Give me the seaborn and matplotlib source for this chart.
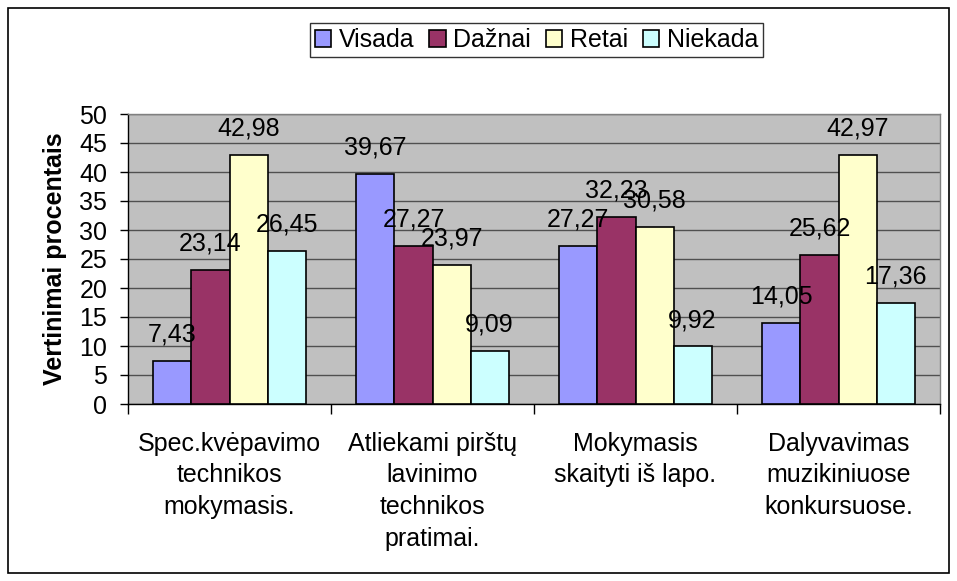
import numpy as np
import pandas as pd
import matplotlib
matplotlib.use("Agg")
import matplotlib.pyplot as plt
import seaborn as sns
from matplotlib.patches import Rectangle
from matplotlib.ticker import FixedLocator

# Duomenys
kategorijos = ["Spec.kvėpavimo\ntechnikos\nmokymasis.",
               "Atliekami pirštų\nlavinimo\ntechnikos\npratimai.",
               "Mokymasis\nskaityti iš lapo.",
               "Dalyvavimas\nmuzikiniuose\nkonkursuose."]
serijos = ["Visada", "Dažnai", "Retai", "Niekada"]
visada = [7.43, 39.67, 27.27, 14.05]
daznai = [23.14, 27.27, 32.23, 25.62]
retai = [42.98, 23.97, 30.58, 42.97]
niekada = [26.45, 9.09, 9.92, 17.36]
spalvos = ["#9999FF", "#993366", "#FFFFCC", "#CCFFFF"]

df = pd.DataFrame({
    "kategorija": np.repeat(kategorijos, 4),
    "serija": serijos * 4,
    "reiksme": [v for grupe in zip(visada, daznai, retai, niekada) for v in grupe],
})

sns.set_style("white")
plt.rcParams["font.family"] = ["Liberation Sans", "DejaVu Sans"]
plt.rcParams["text.color"] = "black"
plt.rcParams["axes.labelcolor"] = "black"
plt.rcParams["xtick.color"] = "black"
plt.rcParams["ytick.color"] = "black"
FS = 18

fig = plt.figure(figsize=(9.57, 5.81), dpi=100)
ax = fig.add_axes([128/957, 1 - 404/581, (940 - 128)/957, (404 - 114)/581])
ax.set_facecolor("#C0C0C0")

sns.barplot(data=df, x="kategorija", y="reiksme", hue="serija",
            hue_order=serijos, order=kategorijos, palette=spalvos,
            width=0.75, edgecolor="black", linewidth=1.2, saturation=1,
            ax=ax, zorder=3)

# Reikšmių etiketės
for cont in ax.containers:
    for bar in cont:
        h = bar.get_height()
        ax.annotate(f"{h:.2f}".replace(".", ","),
                    (bar.get_x() + bar.get_width() / 2, h),
                    xytext=(0, 14), textcoords="offset points",
                    ha="center", va="baseline", fontsize=FS, zorder=5)

ax.set_ylim(0, 50)
ax.set_xlim(-0.5, 3.5)
ax.set_yticks(range(0, 51, 5))
ax.yaxis.grid(True, color="#505050", linewidth=1, zorder=0)
ax.set_axisbelow(True)
ax.tick_params(axis="y", labelsize=FS, length=6, width=1, direction="out", left=True, pad=9)
ax.tick_params(axis="x", which="major", length=0, labelsize=FS, pad=20)
for t in ax.get_xticklabels():
    t.set_linespacing(1.4)
ax.xaxis.set_minor_locator(FixedLocator([-0.5, 0.5, 1.5, 2.5, 3.5]))
ax.tick_params(axis="x", which="minor", length=7, width=1, direction="out", bottom=True)
ax.set_xlabel("")
ax.set_ylabel("Vertinimai procentais", fontsize=FS, fontweight="bold", labelpad=9)

for s in ["left", "bottom"]:
    ax.spines[s].set_color("black")
    ax.spines[s].set_linewidth(1)
for s in ["top", "right"]:
    ax.spines[s].set_color("#808080")
    ax.spines[s].set_linewidth(1)

# Legenda
leg = ax.legend(loc="center", bbox_to_anchor=((308 + 765) / 2 / 957, 1 - 40 / 581),
                bbox_transform=fig.transFigure, ncol=4, fontsize=FS, frameon=True,
                fancybox=False, edgecolor="black", handlelength=0.65, handleheight=0.65,
                handletextpad=0.3, columnspacing=0.6, borderpad=0.2)
leg.get_frame().set_linewidth(1)

# Išorinis rėmelis
fig.patches.append(Rectangle((8/957, 8/581), (949 - 8)/957, (573 - 8)/581,
                             transform=fig.transFigure, fill=False,
                             edgecolor="black", linewidth=1.2))

fig.savefig("out.png", dpi=100)
